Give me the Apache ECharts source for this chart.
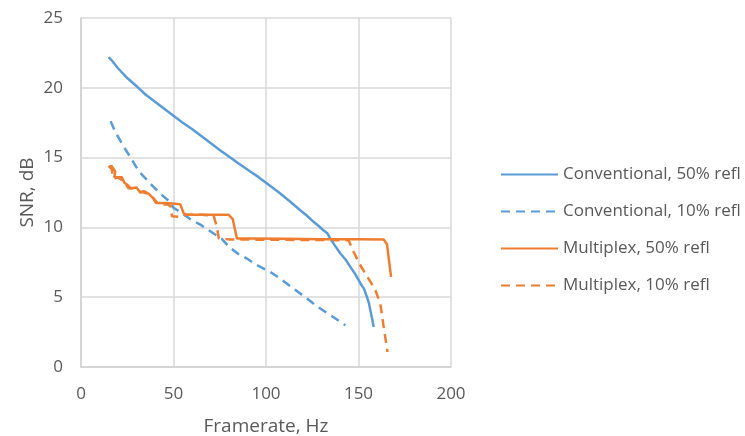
<!DOCTYPE html>
<html><head><meta charset="utf-8">
<script src="https://cdn.jsdelivr.net/npm/echarts@6/dist/echarts.min.js"></script>
<style>html,body{margin:0;padding:0;background:#fff}#c{width:745px;height:436px}</style>
</head><body><div id="c"></div>
<script>
const seriesNames = ["Conventional, 50% refl","Conventional, 10% refl","Multiplex, 50% refl","Multiplex, 10% refl"];
const conv50 = [[15,22.2],[17,21.9],[20,21.4],[25,20.7],[31,20.0],[35,19.5],[40,19.0],[45,18.5],[50,18.0],[55,17.5],[60,17.05],[65,16.55],[70,16.05],[75,15.55],[80.7,15.0],[85,14.6],[91.5,14.0],[96,13.6],[100,13.2],[104,12.8],[107.7,12.43],[113,11.85],[118.5,11.23],[122,10.85],[125.7,10.4],[128,10.15],[131,9.8],[133,9.6],[134.8,9.2],[137,8.75],[140.2,8.13],[143,7.7],[145.6,7.17],[148,6.7],[151,6.0],[153,5.6],[154.6,5.0],[155.6,4.6],[156.4,4.06],[157.3,3.5],[158.2,2.87]];
const conv10 = [[16,17.6],[18,17.0],[20,16.5],[23,15.8],[26.6,15.05],[30,14.3],[32,13.9],[35,13.5],[39.2,12.9],[43,12.4],[48.3,11.8],[50,11.4],[53.7,11.1],[60,10.5],[64.5,10.2],[71.7,9.56],[76,9.2],[80,8.6],[85,8.1],[89.7,7.77],[95,7.3],[102.3,6.81],[108,6.3],[115,5.6],[122.2,4.9],[128,4.3],[135,3.7],[142.9,2.99]];
const mux50 = [[15,14.3],[16.5,14.4],[18.5,14.0],[18,13.6],[20,13.6],[22,13.6],[23.5,13.2],[25.5,13.0],[27,12.8],[30,12.85],[32,12.5],[34,12.6],[36.6,12.4],[39,12.1],[40.5,11.75],[45,11.75],[51,11.7],[53.7,11.65],[55.5,11.0],[57.3,10.9],[65,10.9],[72,10.9],[79.8,10.9],[82,10.6],[84.3,9.2],[90,9.2],[110,9.18],[130,9.16],[150,9.15],[163.6,9.13],[165.4,8.8],[167.6,6.45]];
const mux10 = [[15,14.4],[16.5,14.2],[17.6,13.5],[20,13.6],[23,13.3],[25.7,12.8],[29.4,12.8],[32,12.55],[34,12.5],[36.6,12.4],[39.3,12.07],[42,11.64],[47,11.64],[48.5,11.5],[49.2,10.8],[53.7,10.75],[57,10.9],[65,10.9],[71.7,10.85],[73.5,10.0],[74.5,9.2],[80.7,9.13],[100,9.12],[120,9.1],[144.6,9.08],[147.4,8.24],[150.5,7.4],[153.7,6.69],[156.5,6.1],[159.1,5.5],[161.8,4.54],[163.6,2.87],[165.7,1.07]];
const xTicks = {min:0,max:200,interval:50};
const yTicks = {min:0,max:25,interval:5};
const blue = '#5b9bd5', orange = '#ed7d31';
const font = "'Open Sans', 'Liberation Sans', sans-serif";
const chart = echarts.init(document.getElementById('c'));
const mk = (name, data, color, dashed) => ({
  name, type:'line', data, symbol:'none', smooth:false,
  lineStyle:{color, width:2.5, type: dashed ? [9,6] : 'solid', cap:'butt'},
  itemStyle:{color}, z: dashed ? 2 : 3
});
chart.setOption({
  animation:false,
  textStyle:{fontFamily:font},
  grid:{left:81, right:294, top:18, bottom:69, containLabel:false, outerBoundsMode:'none'},
  xAxis:{type:'value', min:xTicks.min, max:xTicks.max, interval:xTicks.interval,
    name:'Framerate, Hz', nameLocation:'middle', nameGap:50,
    nameTextStyle:{color:'#595959', fontSize:19, fontFamily:font},
    axisLine:{show:true, lineStyle:{color:'#d0d0d0', width:1.5}},
    axisTick:{show:false},
    axisLabel:{color:'#595959', fontSize:17, margin:19, fontFamily:font},
    splitLine:{show:true, lineStyle:{color:'#d9d9d9', width:1.5}}},
  yAxis:{type:'value', min:yTicks.min, max:yTicks.max, interval:yTicks.interval,
    name:'SNR, dB', nameLocation:'middle', nameGap:44, nameRotate:90,
    nameTextStyle:{color:'#595959', fontSize:19, fontFamily:font},
    axisLine:{show:true, lineStyle:{color:'#d0d0d0', width:1.5}},
    axisTick:{show:false},
    axisLabel:{color:'#595959', fontSize:17, margin:18, fontFamily:font},
    splitLine:{show:true, lineStyle:{color:'#d9d9d9', width:1.5}}},
  legend:{orient:'vertical', left:495, top:161, itemWidth:57, itemHeight:14, itemGap:20,
    itemStyle:{opacity:0},
    textStyle:{color:'#595959', fontSize:17, lineHeight:17, fontFamily:font},
    data:seriesNames},
  series:[mk(seriesNames[0],conv50,blue,false), mk(seriesNames[1],conv10,blue,true),
          mk(seriesNames[2],mux50,orange,false), mk(seriesNames[3],mux10,orange,true)]
});
</script></body></html>
